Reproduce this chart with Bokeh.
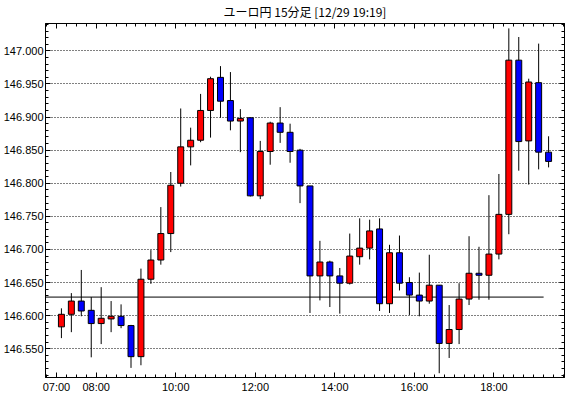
from bokeh.plotting import figure
from bokeh.models import (ColumnDataSource, FixedTicker, LinearAxis, Range1d,
                          NumeralTickFormatter, CustomLabelingPolicy)
from bokeh.embed import file_html
from bokeh.resources import INLINE

title_text = "ユーロ円 15分足 [12/29 19:19]"

times = ["07:00", "07:15", "07:30", "07:45", "08:00", "08:15", "08:30", "08:45",
         "09:00", "09:15", "09:30", "09:45", "10:00", "10:15", "10:30", "10:45",
         "11:00", "11:15", "11:30", "11:45", "12:00", "12:15", "12:30", "12:45",
         "13:00", "13:15", "13:30", "13:45", "14:00", "14:15", "14:30", "14:45",
         "15:00", "15:15", "15:30", "15:45", "16:00", "16:15", "16:30", "16:45",
         "17:00", "17:15", "17:30", "17:45", "18:00", "18:15", "18:30", "18:45",
         "19:00", "19:15"]

opens = [146.583, 146.602, 146.622, 146.608, 146.588, 146.595, 146.599, 146.585,
         146.538, 146.655, 146.684, 146.724, 146.800, 146.855, 146.865, 146.910,
         146.960, 146.925, 146.894, 146.899, 146.781, 146.848, 146.891, 146.877,
         146.850, 146.796, 146.660, 146.681, 146.660, 146.649, 146.689, 146.702,
         146.731, 146.618, 146.695, 146.650, 146.631, 146.622, 146.646, 146.558,
         146.579, 146.625, 146.664, 146.661, 146.693, 146.753, 146.986, 146.864,
         146.952, 146.847]

highs = [146.611, 146.634, 146.669, 146.628, 146.643, 146.622, 146.617, 146.586,
         146.671, 146.699, 146.764, 146.817, 146.913, 146.884, 146.935, 146.961,
         146.977, 146.968, 146.912, 146.899, 146.864, 146.893, 146.915, 146.890,
         146.852, 146.796, 146.713, 146.683, 146.672, 146.724, 146.747, 146.745,
         146.747, 146.707, 146.721, 146.658, 146.665, 146.692, 146.646, 146.616,
         146.649, 146.720, 146.704, 146.782, 146.814, 147.034, 147.021, 146.958,
         147.011, 146.871]

lows = [146.566, 146.575, 146.599, 146.537, 146.557, 146.575, 146.581, 146.521,
        146.525, 146.648, 146.677, 146.696, 146.795, 146.827, 146.862, 146.869,
        146.899, 146.880, 146.847, 146.780, 146.776, 146.828, 146.861, 146.831,
        146.770, 146.604, 146.623, 146.613, 146.603, 146.647, 146.677, 146.685,
        146.607, 146.604, 146.638, 146.601, 146.599, 146.618, 146.513, 146.536,
        146.557, 146.616, 146.624, 146.624, 146.685, 146.723, 146.819, 146.798,
        146.821, 146.824]

closes = [146.602, 146.622, 146.607, 146.588, 146.596, 146.599, 146.585, 146.538,
          146.655, 146.684, 146.724, 146.797, 146.855, 146.865, 146.910, 146.958,
          146.924, 146.894, 146.898, 146.781, 146.848, 146.891, 146.877, 146.848,
          146.796, 146.660, 146.681, 146.660, 146.649, 146.690, 146.702, 146.728,
          146.618, 146.695, 146.649, 146.631, 146.622, 146.646, 146.558, 146.579,
          146.625, 146.664, 146.661, 146.693, 146.753, 146.986, 146.863, 146.953,
          146.847, 146.833]

ref_level = 146.628

x_tick_hours = [7, 8, 10, 12, 14, 16, 18]
x_tick_labels = ["07:00", "08:00", "10:00", "12:00", "14:00", "16:00", "18:00"]
y_ticks = [146.55, 146.60, 146.65, 146.70, 146.75, 146.80, 146.85, 146.90, 146.95, 147.00]

UP = "#FF0000"
DOWN = "#0000FF"
FONT = "Liberation Sans"


def to_hours(t):
    h, m = t.split(":")
    return int(h) + int(m) / 60.0


start_h = [to_hours(t) for t in times]
xs = [h + 0.125 for h in start_h]
tops = [max(o, c) for o, c in zip(opens, closes)]
bottoms = [min(o, c) for o, c in zip(opens, closes)]
colors = [UP if c >= o else DOWN for o, c in zip(opens, closes)]

src = ColumnDataSource(dict(x=xs, high=highs, low=lows, top=tops, bottom=bottoms, color=colors))

x0, x1 = 6.725, 19.775
p = figure(width=570, height=398,
           x_range=Range1d(x0, x1), y_range=Range1d(146.5065, 147.0414),
           output_backend="svg", toolbar_location=None,
           min_border_left=44, min_border_right=4, min_border_top=22, min_border_bottom=21)
p.background_fill_color = "white"
p.border_fill_color = "white"
p.outline_line_color = "black"
p.outline_line_width = 1
p.outline_line_alpha = 1

p.title.text = title_text
p.title.align = "center"
p.title.text_font = "Noto Sans CJK JP"
p.title.text_font_size = "12px"
p.title.text_font_style = "normal"
p.title.text_color = "black"
p.title.standoff = 0
p.title.text_line_height = 1.0

minor_x = [7 + 0.25 * i - 0.25 for i in range(0, 54)]
minor_y = [146.50 + 0.01 * i for i in range(0, 56)]
xticker = FixedTicker(ticks=x_tick_hours, minor_ticks=minor_x)
yticker = FixedTicker(ticks=y_ticks, minor_ticks=minor_y)


def style_axis(ax, labels=True):
    ax.axis_line_color = "black"
    ax.major_tick_line_color = "black"
    ax.minor_tick_line_color = "black"
    ax.major_tick_in = 5
    ax.major_tick_out = 0
    ax.minor_tick_in = 3
    ax.minor_tick_out = 0
    ax.major_label_text_font = FONT
    ax.major_label_text_color = "black"
    if labels:
        ax.major_label_text_font_size = "11px"
        ax.major_label_standoff = 3
    else:
        ax.major_label_text_font_size = "1px"
        ax.major_label_standoff = 0
        ax.major_label_policy = CustomLabelingPolicy(
            code="for (const i of indices) { indices.unset(i) }")


xa = p.xaxis[0]
xa.ticker = xticker
xa.major_label_overrides = {h: l for h, l in zip(x_tick_hours, x_tick_labels)}
style_axis(xa)

ya = p.yaxis[0]
ya.ticker = yticker
ya.formatter = NumeralTickFormatter(format="0.000")
style_axis(ya)
ya.major_label_standoff = 2

top_ax = LinearAxis(ticker=xticker)
style_axis(top_ax, labels=False)
p.add_layout(top_ax, "above")

right_ax = LinearAxis(ticker=yticker)
style_axis(right_ax, labels=False)
p.add_layout(right_ax, "right")

p.xgrid.visible = False
p.ygrid.ticker = yticker
p.ygrid.grid_line_color = "black"
p.ygrid.grid_line_dash = "1 2"
p.ygrid.grid_line_width = 1

p.segment(x0=[x0], y0=[ref_level], x1=[start_h[-1]], y1=[ref_level],
          line_color="black", line_width=1)

p.segment(x0="x", y0="low", x1="x", y1="high", source=src, line_color="black", line_width=1)
p.vbar(x="x", width=0.15, top="top", bottom="bottom", source=src,
       fill_color="color", line_color="black", line_width=1)

open("out.html", "w").write(file_html(p, INLINE))
